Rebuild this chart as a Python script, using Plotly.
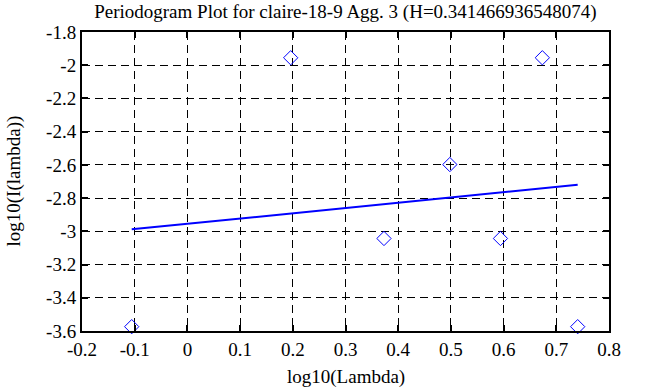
import plotly.graph_objects as go

# Data
pts_x = [-0.1057, 0.196, 0.373, 0.498, 0.594, 0.6735, 0.7406]
pts_y = [-3.574, -1.955, -3.043, -2.598, -3.043, -1.955, -3.574]
fit_x = [-0.1057, 0.7406]
fit_y = [-2.988, -2.720]
x_ticks = [-0.2, -0.1, 0, 0.1, 0.2, 0.3, 0.4, 0.5, 0.6, 0.7, 0.8]
x_labels = ["-0.2", "-0.1", "0", "0.1", "0.2", "0.3", "0.4", "0.5", "0.6", "0.7", "0.8"]
y_ticks = [-1.8, -2.0, -2.2, -2.4, -2.6, -2.8, -3.0, -3.2, -3.4, -3.6]
y_labels = ["-1.8", "-2", "-2.2", "-2.4", "-2.6", "-2.8", "-3", "-3.2", "-3.4", "-3.6"]
title = "Periodogram Plot for claire-18-9 Agg. 3 (H=0.341466936548074)"

FAM = "Liberation Serif, Times New Roman, serif"
font = dict(family=FAM, size=19, color="black")

fig = go.Figure()
fig.add_trace(go.Scatter(x=pts_x, y=pts_y, mode="markers",
                         marker=dict(symbol="diamond-open", size=11, color="#0000ff",
                                     line=dict(width=1, color="#0000ff")),
                         showlegend=False, cliponaxis=False))
fig.add_trace(go.Scatter(x=fit_x, y=fit_y, mode="lines",
                         line=dict(color="#0000ff", width=2), showlegend=False))

axis_common = dict(showline=True, linecolor="black", linewidth=2, mirror="ticks",
                   ticks="inside", ticklen=6, tickwidth=2, tickcolor="black",
                   showgrid=True, gridcolor="black", gridwidth=1, griddash="8px,5px",
                   zeroline=False, tickfont=font, automargin=False)

fig.update_xaxes(range=[-0.2, 0.8], tickvals=x_ticks, ticktext=x_labels, **axis_common)
fig.update_yaxes(range=[-3.6, -1.8], tickvals=y_ticks, ticktext=y_labels, **axis_common)

fig.update_layout(
    width=658, height=387,
    margin=dict(l=82, r=49, t=32, b=56),
    paper_bgcolor="white", plot_bgcolor="white",
    font=font,
    title=dict(text=title, x=0.525, xanchor="center", y=1 - 11 / 387, yanchor="middle",
               font=dict(family=FAM, size=19, color="black")),
    annotations=[
        dict(text="log10(Lambda)", xref="paper", yref="paper", x=0.5, y=-(377 - 331) / 299,
             yanchor="middle", xanchor="center", showarrow=False, font=font),
        dict(text="log10(I(lambda))", xref="paper", yref="paper", x=-(82 - 13) / 527,
             y=0.5, yanchor="middle", xanchor="center", textangle=-90,
             showarrow=False, font=font),
    ],
)

fig.write_html("out.html", config={"displayModeBar": False},
               post_script="document.body.style.margin='0';document.body.style.padding='0';")
